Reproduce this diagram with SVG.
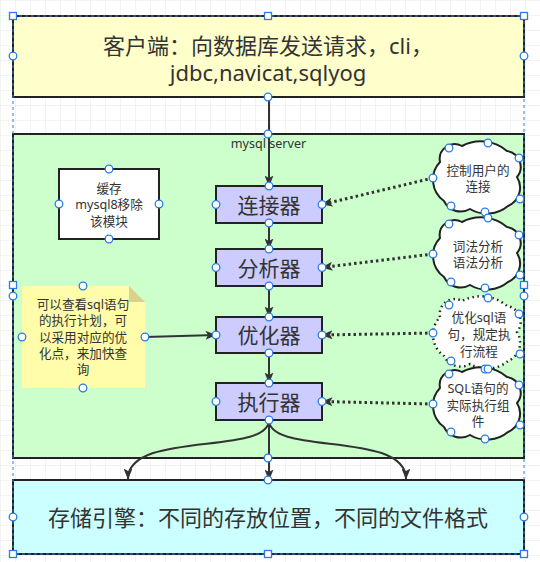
<svg xmlns="http://www.w3.org/2000/svg" xmlns:xlink="http://www.w3.org/1999/xlink" width="540" height="562" viewBox="0 0 540 562">
<style>
text{font-family:"Noto Sans","Noto Sans CJK SC","Liberation Sans",sans-serif;fill:#333;text-anchor:middle;dominant-baseline:central}
.box{stroke:#222;stroke-width:2}
.proc{fill:#CCCCFF;stroke:#222;stroke-width:2}
.edge{fill:none;stroke:#333;stroke-width:2;marker-end:url(#arr)}
.dot{fill:none;stroke:#333;stroke-width:3;stroke-dasharray:2.5 3;marker-end:url(#arr)}
.cloud{fill:#fff;stroke:#222;stroke-width:2}
.cloud.dotted{stroke-width:2.5;stroke-dasharray:1.5 3.5}
.h{fill:#fff;stroke:#2a7de8;stroke-width:1.3}
.t13{font-size:12.6px}
.t21{font-size:21px}
.t22{font-size:22px}
</style>
<defs>
<pattern id="grid" width="15" height="15" patternUnits="userSpaceOnUse">
<path d="M15,0 L0,0 L0,15" fill="none" stroke="#e8e8e8" stroke-width="1"/>
</pattern>
<marker id="arr" viewBox="0 0 11 9" refX="10.5" refY="4.5" markerWidth="11" markerHeight="9" markerUnits="userSpaceOnUse" orient="auto">
<path d="M0,0 L11,4.5 L0,9 L2.5,4.5 z" fill="#333"/>
</marker>
<path id="cloudShape" d="M-37,-16 A15,15 0 0 1 -15,-32 A40,40 0 0 1 30,-27 A16,16 0 0 1 40,-1 A20,20 0 0 1 31,28 A33,33 0 0 1 -7,31 A18.4,18.4 0 0 1 -33,23 A26,26 0 0 1 -37,-16 Z"/>
</defs>
<rect width="540" height="562" fill="#fff"/>
<rect width="540" height="562" fill="url(#grid)"/>

<g id="client">
<rect class="box" x="13" y="16" width="511" height="81" fill="#FFFFCC"/>
<text class="t22" x="268" y="45">客户端：向数据库发送请求，cli，</text>
<text class="t22" x="268" y="72">jdbc,navicat,sqlyog</text>
</g>

<g id="server">
<rect class="box" x="13" y="134" width="511" height="324" fill="#CCFFCC"/>
<text class="t13" x="268.5" y="143">mysql server</text>
</g>

<g id="storage">
<rect class="box" x="13" y="480" width="511" height="74" fill="#CCFFFF"/>
<text class="t22" x="268" y="517">存储引擎：不同的存放位置，不同的文件格式</text>
</g>

<g id="cache">
<rect class="box" x="59" y="169" width="100" height="70" fill="#fff"/>
<text class="t13" x="109" y="188">缓存</text>
<text class="t13" x="109" y="204.5">mysql8移除</text>
<text class="t13" x="109" y="221">该模块</text>
</g>

<g id="note">
<path d="M22,286 L129,286 L145,302 L145,388 L22,388 Z" fill="#FFFCAA"/>
<path d="M129,286 L145,302 L129,302 Z" fill="#D8D28E"/>
<text class="t13" x="83" y="304">可以查看sql语句</text>
<text class="t13" x="83" y="320.5">的执行计划，可</text>
<text class="t13" x="83" y="337">以采用对应的优</text>
<text class="t13" x="83" y="353">化点，来加快查</text>
<text class="t13" x="83" y="369">询</text>
</g>

<g id="connector">
<rect class="proc" x="216" y="186" width="106" height="37"/>
<text class="t21" x="269" y="204.5">连接器</text>
</g>
<g id="analyzer">
<rect class="proc" x="216" y="249" width="106" height="37"/>
<text class="t21" x="269" y="267.5">分析器</text>
</g>
<g id="optimizer">
<rect class="proc" x="216" y="317" width="106" height="36"/>
<text class="t21" x="269" y="335">优化器</text>
</g>
<g id="executor">
<rect class="proc" x="216" y="383" width="106" height="37"/>
<text class="t21" x="269" y="401.5">执行器</text>
</g>

<g id="cloud1">
<use xlink:href="#cloudShape" class="cloud" transform="translate(477,178)"/>
<text class="t13" x="478" y="170">控制用户的</text>
<text class="t13" x="478" y="186">连接</text>
</g>
<g id="cloud2">
<use xlink:href="#cloudShape" class="cloud" transform="translate(477,254)"/>
<text class="t13" x="478" y="246.5">词法分析</text>
<text class="t13" x="478" y="262">语法分析</text>
</g>
<g id="cloud3">
<use xlink:href="#cloudShape" class="cloud dotted" transform="translate(477,333)"/>
<text class="t13" x="479" y="317">优化sql语</text>
<text class="t13" x="479" y="334">句，规定执</text>
<text class="t13" x="479" y="351">行流程</text>
</g>
<g id="cloud4">
<use xlink:href="#cloudShape" class="cloud" transform="translate(477,404)"/>
<text class="t13" x="478" y="388">SQL语句的</text>
<text class="t13" x="478" y="405">实际执行组</text>
<text class="t13" x="478" y="421">件</text>
</g>

<g id="connectors">
<path class="edge" d="M269,97 L269,186"/>
<path class="edge" d="M269,223 L269,249"/>
<path class="edge" d="M269,286 L269,317"/>
<path class="edge" d="M269,353 L269,383"/>
<path class="edge" d="M269,420 L269,480"/>
<path class="edge" d="M269,420 C269,456 128,430 128,479"/>
<path class="edge" d="M269,420 C269,456 406,430 406,479"/>
<path class="edge" d="M145,337 L216,335"/>
<path class="dot" d="M433,178 L322,204.5"/>
<path class="dot" d="M433,254 L322,267.5"/>
<path class="dot" d="M433,333 L322,335"/>
<path class="dot" d="M433,404 L322,401.5"/>
</g>

<g id="selection">
<rect x="13" y="16" width="511" height="538" fill="none" stroke="#2a7de8" stroke-width="1" stroke-dasharray="3 3"/>
<g class="h">
<rect x="9.5" y="12.5" width="7" height="7"/><rect x="264.5" y="12.5" width="7" height="7"/><rect x="520.5" y="12.5" width="7" height="7"/>
<rect x="9.5" y="281.5" width="7" height="7"/><rect x="520.5" y="281.5" width="7" height="7"/>
<rect x="9.5" y="550.5" width="7" height="7"/><rect x="264.5" y="550.5" width="7" height="7"/><rect x="520.5" y="550.5" width="7" height="7"/>
<circle cx="13" cy="56" r="3.8"/><circle cx="524" cy="56" r="3.8"/><circle cx="268" cy="97" r="3.8"/>
<circle cx="268" cy="134" r="3.8"/><circle cx="13" cy="296" r="3.8"/><circle cx="524" cy="296" r="3.8"/><circle cx="268" cy="458" r="3.8"/>
<circle cx="268" cy="480" r="3.8"/><circle cx="13" cy="517" r="3.8"/><circle cx="524" cy="517" r="3.8"/>
<circle cx="109" cy="169" r="3.8"/><circle cx="59" cy="204" r="3.8"/><circle cx="159" cy="204" r="3.8"/><circle cx="109" cy="239" r="3.8"/>
<circle cx="83" cy="286" r="3.8"/><circle cx="22" cy="337" r="3.8"/><circle cx="145" cy="337" r="3.8"/><circle cx="83" cy="388" r="3.8"/>
<circle cx="269" cy="186" r="3.8"/><circle cx="269" cy="223" r="3.8"/><circle cx="216" cy="204.5" r="3.8"/><circle cx="322" cy="204.5" r="3.8"/>
<circle cx="269" cy="249" r="3.8"/><circle cx="269" cy="286" r="3.8"/><circle cx="216" cy="267.5" r="3.8"/><circle cx="322" cy="267.5" r="3.8"/>
<circle cx="269" cy="317" r="3.8"/><circle cx="269" cy="353" r="3.8"/><circle cx="216" cy="335" r="3.8"/><circle cx="322" cy="335" r="3.8"/>
<circle cx="269" cy="383" r="3.8"/><circle cx="269" cy="420" r="3.8"/><circle cx="216" cy="401.5" r="3.8"/><circle cx="322" cy="401.5" r="3.8"/>
<circle cx="449" cy="148" r="3.8"/><circle cx="488" cy="143" r="3.8"/><circle cx="519" cy="158" r="3.8"/><circle cx="433" cy="178" r="3.8"/><circle cx="520" cy="199" r="3.8"/><circle cx="451" cy="206" r="3.8"/><circle cx="485" cy="212" r="3.8"/>
<circle cx="449" cy="224" r="3.8"/><circle cx="488" cy="218" r="3.8"/><circle cx="519" cy="235" r="3.8"/><circle cx="433" cy="254" r="3.8"/><circle cx="520" cy="275" r="3.8"/><circle cx="451" cy="282" r="3.8"/><circle cx="485" cy="288" r="3.8"/>
<circle cx="449" cy="305" r="3.8"/><circle cx="488" cy="298" r="3.8"/><circle cx="519" cy="314" r="3.8"/><circle cx="433" cy="333" r="3.8"/><circle cx="520" cy="354" r="3.8"/><circle cx="451" cy="361" r="3.8"/><circle cx="485" cy="369" r="3.8"/>
<circle cx="449" cy="374" r="3.8"/><circle cx="488" cy="369" r="3.8"/><circle cx="519" cy="385" r="3.8"/><circle cx="433" cy="404" r="3.8"/><circle cx="520" cy="425" r="3.8"/><circle cx="451" cy="432" r="3.8"/><circle cx="485" cy="439" r="3.8"/>
</g>
</g>
</svg>
